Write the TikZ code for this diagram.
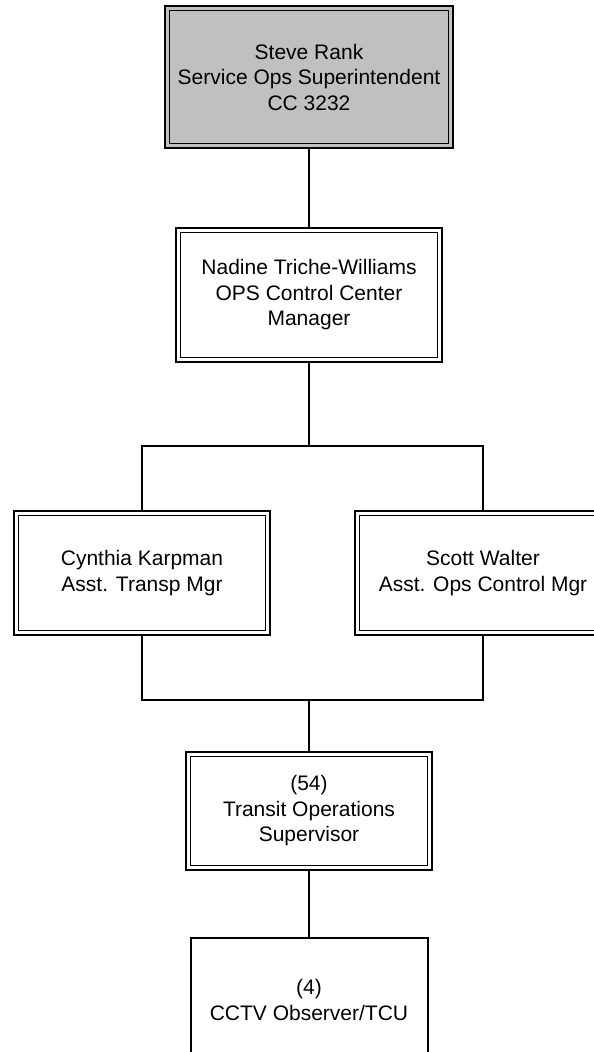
\documentclass[tikz,border=0pt]{standalone}
\usepackage{fontspec}
\setmainfont{Liberation Sans}
\begin{document}
\begin{tikzpicture}[x=1pt,y=-1pt,
  box/.style={draw, line width=2pt, outer sep=0pt, align=center, inner sep=0pt,
    font=\fontsize{21}{25.5}\selectfont},
  conn/.style={line width=1.6pt},
  innerline/.style={line width=1pt}]
\useasboundingbox (0,0) rectangle (594,1052);
\clip (0,0) rectangle (594,1052);
\node[box, fill={rgb,255:red,192;green,192;blue,192}, minimum width=288pt, minimum height=142pt] (top) at (309,77)
  {Steve Rank\\Service Ops Superintendent\\CC 3232};
\node[box, minimum width=266pt, minimum height=134pt] (nad) at (309,295)
  {Nadine Triche-Williams\\OPS Control Center\\Manager};
\node[box, minimum width=256pt, minimum height=124pt] (cyn) at (142,573)
  {Cynthia Karpman\\Asst. Transp Mgr};
\node[box, minimum width=256pt, minimum height=124pt] (sco) at (483,573)
  {Scott Walter\\Asst. Ops Control Mgr};
\node[box, minimum width=246pt, minimum height=118pt] (tra) at (309,811)
  {(54)\\Transit Operations\\Supervisor};
\node[box, minimum width=237pt, minimum height=124pt] (cct) at (309,1000)
  {(4)\\CCTV Observer/TCU};
\foreach \n in {top,nad,cyn,sco,tra}
  \draw[innerline] ([shift={(4.5pt,4.5pt)}]\n.south west) rectangle ([shift={(-4.5pt,-4.5pt)}]\n.north east);
\coordinate (b1) at (309,446);
\coordinate (b2) at (309,700);
\draw[conn] (top.south) -- (nad.north);
\draw[conn] (nad.south) -- (b1);
\draw[conn] (cyn.north) |- (b1) -| (sco.north);
\draw[conn] (cyn.south) |- (b2) -| (sco.south);
\draw[conn] (b2) -- (tra.north);
\draw[conn] (tra.south) -- (cct.north);
\end{tikzpicture}
\end{document}
